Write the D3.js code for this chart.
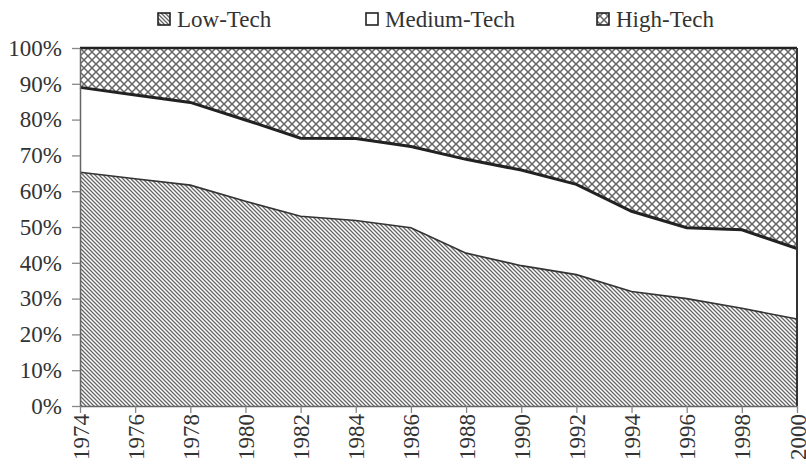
<!DOCTYPE html>
<html>
<head>
<meta charset="utf-8">
<script src="https://cdn.jsdelivr.net/npm/d3@7"></script>
<style>
  svg text { font-family: "Liberation Serif", serif !important; }
</style>
</head>
<body style="margin:0">
<svg id="fig" width="806" height="468"></svg>
<script>
// Data (shares in %)
const years = [1974, 1976, 1978, 1980, 1982, 1984, 1986, 1988, 1990, 1992, 1994, 1996, 1998, 2000];
const lowTech = [65.3, 63.5, 61.7, 57.2, 53.0, 51.8, 49.8, 42.7, 39.2, 36.7, 32.0, 30.0, 27.3, 24.3];
const lowPlusMedium = [89.0, 86.9, 84.8, 79.9, 74.8, 74.7, 72.5, 68.9, 65.9, 61.9, 54.4, 49.8, 49.2, 44.0];
const yTicks = [0, 10, 20, 30, 40, 50, 60, 70, 80, 90, 100];
const seriesNames = ["Low-Tech", "Medium-Tech", "High-Tech"];

const FONT = "Liberation Serif";
const FS = 23;

const data = years.map((y, i) => ({
  year: y,
  low: lowTech[i],
  mid: lowPlusMedium[i] - lowTech[i],
  high: 100 - lowPlusMedium[i]
}));

const svg = d3.select("#fig");
const margin = { left: 80, right: 9, top: 48, bottom: 62 };
const w = 806, h = 468;

// patterns
const defs = svg.append("defs");
const hatch = defs.append("pattern")
  .attr("id", "hatch").attr("patternUnits", "userSpaceOnUse")
  .attr("width", 4).attr("height", 4);
hatch.append("rect").attr("width", 4).attr("height", 4).attr("fill", "#fff");
hatch.append("path").attr("d", "M-1,-1 L5,5 M-1,3 L1,5 M3,-1 L5,1")
  .attr("stroke", "#666").attr("stroke-width", 1.3);

const cross = defs.append("pattern")
  .attr("id", "cross").attr("patternUnits", "userSpaceOnUse")
  .attr("width", 8).attr("height", 8);
cross.append("rect").attr("width", 8).attr("height", 8).attr("fill", "#fff");
cross.append("path").attr("d", "M0,0 L8,8 M8,0 L0,8")
  .attr("stroke", "#666").attr("stroke-width", 1.5);

const x = d3.scaleLinear()
  .domain(d3.extent(years))
  .range([margin.left, w - margin.right]);
const y = d3.scaleLinear()
  .domain([0, 100])
  .range([h - margin.bottom, margin.top]);

const stack = d3.stack().keys(["low", "mid", "high"]);
const layers = stack(data);
const fills = ["url(#hatch)", "#fff", "url(#cross)"];

const area = d3.area()
  .x(d => x(d.data.year))
  .y0(d => y(d[0]))
  .y1(d => y(d[1]));

svg.selectAll(".layer")
  .data(layers)
  .join("path")
  .attr("class", "layer")
  .attr("fill", (d, i) => fills[i])
  .attr("d", area);

// boundary lines
const line = d3.line().x(d => x(d.data.year)).y(d => y(d[1]));
svg.append("path").datum(layers[0]).attr("d", line)
  .attr("fill", "none").attr("stroke", "#333").attr("stroke-width", 1.6);
svg.append("path").datum(layers[1]).attr("d", line)
  .attr("fill", "none").attr("stroke", "#222").attr("stroke-width", 3);

// frame: top and right
svg.append("line")
  .attr("x1", x(1974)).attr("x2", x(2000))
  .attr("y1", y(100)).attr("y2", y(100))
  .attr("stroke", "#222").attr("stroke-width", 2.5);
svg.append("line")
  .attr("x1", x(2000)).attr("x2", x(2000))
  .attr("y1", y(100)).attr("y2", y(0))
  .attr("stroke", "#333").attr("stroke-width", 2);

// axes
const yAxis = d3.axisLeft(y)
  .tickValues(yTicks)
  .tickFormat(d => d + "%")
  .tickSizeInner(8).tickSizeOuter(0).tickPadding(10);
const gy = svg.append("g")
  .attr("transform", `translate(${margin.left},0)`)
  .call(yAxis);
gy.attr("font-family", FONT).attr("font-size", FS);
gy.selectAll("text")
  .attr("font-family", FONT)
  .attr("font-size", FS)
  .attr("fill", "#333");

const xAxis = d3.axisBottom(x)
  .tickValues(years)
  .tickFormat(d3.format("d"))
  .tickSizeInner(7).tickSizeOuter(0).tickPadding(8);
const gx = svg.append("g")
  .attr("transform", `translate(0,${h - margin.bottom})`)
  .call(xAxis);
gx.attr("font-family", FONT).attr("font-size", FS);
gx.selectAll("text")
  .attr("font-family", FONT)
  .attr("font-size", FS)
  .attr("fill", "#333")
  .attr("transform", "rotate(-90)")
  .attr("text-anchor", "end")
  .attr("x", -8).attr("y", 0).attr("dy", "0.35em");

svg.selectAll(".domain").attr("stroke", "#666").attr("stroke-width", 1.5);
svg.selectAll(".tick line").attr("stroke", "#888").attr("stroke-width", 1.3);

// legend
const legendX = [158, 366, 597];
const legendFill = ["url(#hatch)", "#fff", "url(#cross)"];
const lg = svg.append("g");
seriesNames.forEach((name, i) => {
  lg.append("rect")
    .attr("x", legendX[i]).attr("y", 13)
    .attr("width", 12).attr("height", 12)
    .attr("fill", legendFill[i])
    .attr("stroke", "#222").attr("stroke-width", 1.6);
  lg.append("text")
    .attr("x", legendX[i] + 19).attr("y", 27)
    .attr("font-family", FONT)
    .attr("font-size", FS)
    .attr("fill", "#333")
    .text(name);
});
</script>
</body>
</html>
